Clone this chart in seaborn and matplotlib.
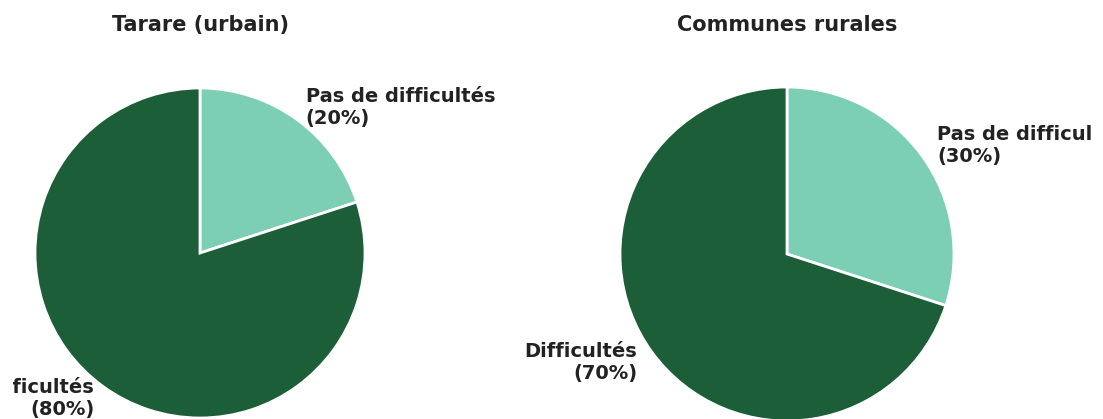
import matplotlib
matplotlib.use("Agg")
import matplotlib.pyplot as plt
from matplotlib.transforms import Bbox, TransformedBbox, IdentityTransform
import seaborn as sns

sns.set_theme(style="white")
plt.rcParams["font.family"] = ["DejaVu Sans"]

# Survey shares by territory
titles = ["Tarare (urbain)", "Communes rurales"]
categories = ["Pas de difficultés", "Difficultés"]
shares_tarare = [20, 80]
shares_rural = [30, 70]
colors = ["#7ccfb4", "#1b5e38"]

W, H = 1103, 419
fig = plt.figure(figsize=(W / 100, H / 100), dpi=100)
fig.patch.set_facecolor("white")

# pie centre x, centre y, radius (pixels from top-left) and label distance
layout = [(200, 253, 165, 1.09), (787, 254, 167, 1.11)]

# visible band for slice labels (display pixels)
label_clip = TransformedBbox(Bbox.from_extents(13, 0, 1092, H), IdentityTransform())

for title, shares, (cx, cy, r, ld) in zip(titles, [shares_tarare, shares_rural], layout):
    half = 1.25 * r
    ax = fig.add_axes([(cx - half) / W, (H - cy - half) / H, 2 * half / W, 2 * half / H])
    labels = [f"{c}\n({v}%)" for c, v in zip(categories, shares)]
    wedges, texts = ax.pie(
        shares,
        labels=labels,
        colors=colors,
        startangle=90,
        counterclock=False,
        labeldistance=ld,
        wedgeprops=dict(edgecolor="white", linewidth=2),
        textprops=dict(fontsize=14, fontweight="bold", color="#222222"),
    )
    for t in texts:
        t.set_clip_box(label_clip)
        t.set_clip_on(True)
    ax.set_xlim(-1.25, 1.25)
    ax.set_ylim(-1.25, 1.25)
    ax.set_aspect("equal")
    fig.text(cx / W, 1 - 25 / H, title, ha="center", va="center",
             fontsize=15, fontweight="bold", color="#222222")

fig.savefig("out.png", dpi=100)
